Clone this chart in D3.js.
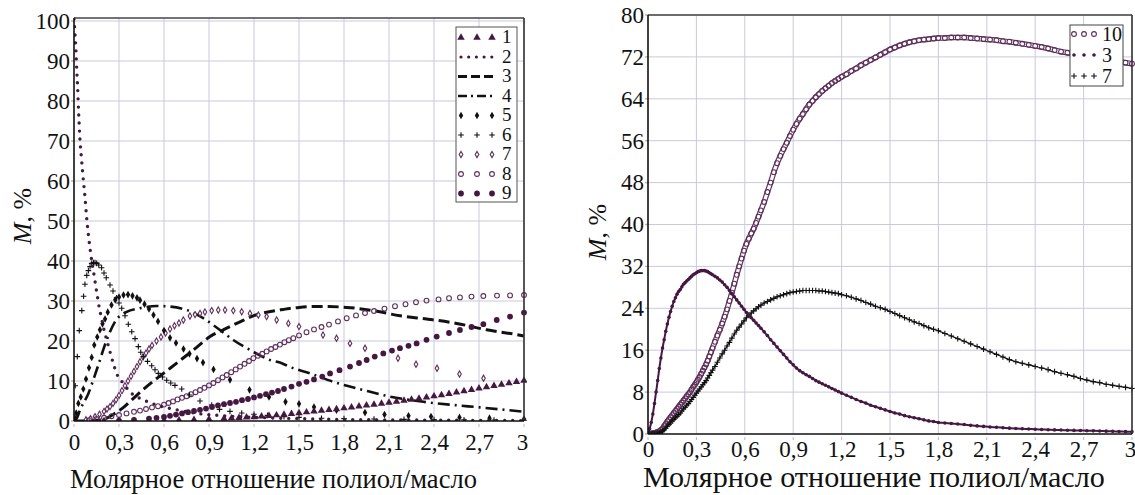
<!DOCTYPE html>
<html><head><meta charset="utf-8">
<script src="https://cdn.jsdelivr.net/npm/d3@7"></script>
<style>
body{margin:0;background:#fff}
svg{display:block}
</style>
</head><body>
<svg id="c" width="1135" height="495"></svg>
<script>
// ---------------- DATA ----------------
const xTicks = [0, 0.3, 0.6, 0.9, 1.2, 1.5, 1.8, 2.1, 2.4, 2.7, 3];
const xTickLabels = ["0", "0,3", "0,6", "0,9", "1,2", "1,5", "1,8", "2,1", "2,4", "2,7", "3"];
const yTicksLeft = [0, 10, 20, 30, 40, 50, 60, 70, 80, 90, 100];
const yTicksRight = [0, 8, 16, 24, 32, 40, 48, 56, 64, 72, 80];
const xTitle = "Молярное отношение полиол/масло";
const legendLeft = ["1", "2", "3", "4", "5", "6", "7", "8", "9"];
const legendRight = ["10", "3", "7"];

// Left chart series: [x, M%]
const s1 = [[0.2,0],[0.3,0],[0.4,0.02],[0.5,0.05],[0.6,0.1],[0.7,0.2],[0.8,0.3],[0.9,0.45],[1.0,0.6],[1.05,0.7],[1.1,0.8],[1.15,0.9],[1.2,1.0],[1.25,1.15],[1.3,1.3],[1.35,1.45],[1.4,1.6],[1.45,1.8],[1.5,2.0],[1.55,2.2],[1.6,2.4],[1.65,2.6],[1.7,2.8],[1.75,3.0],[1.8,3.2],[1.85,3.4],[1.9,3.65],[1.95,3.9],[2.0,4.1],[2.05,4.35],[2.1,4.6],[2.15,4.85],[2.2,5.1],[2.25,5.35],[2.3,5.6],[2.35,5.9],[2.4,6.2],[2.45,6.5],[2.5,6.8],[2.55,7.15],[2.6,7.5],[2.65,7.8],[2.7,8.15],[2.75,8.5],[2.8,8.8],[2.85,9.1],[2.9,9.45],[2.95,9.8],[3.0,10.1]];
const s2 = [[0,100.5],[0.007,96.5],[0.013,92.7],[0.018,88],[0.024,83.6],[0.031,77],[0.04,70.2],[0.049,66],[0.058,62],[0.073,56],[0.084,51],[0.096,46.5],[0.111,42],[0.124,38.6],[0.136,36],[0.147,33.2],[0.158,30.7],[0.169,28.2],[0.184,25.7],[0.2,22.8],[0.218,20.3],[0.24,17.3],[0.262,14.4],[0.284,11.9],[0.329,9.4],[0.373,7.3],[0.462,5.3],[0.551,4.0],[0.684,2.8],[0.8,2.0],[1.0,1.3],[1.3,0.8],[1.6,0.5],[2.0,0.3],[2.5,0.2],[3.0,0.1]];
const s3 = [[0,0],[0.1,0.05],[0.2,0.5],[0.273,1.9],[0.33,3.4],[0.384,5.25],[0.484,8.6],[0.596,11.9],[0.696,14.8],[0.796,17.75],[0.907,21.1],[1.018,23.2],[1.107,24.8],[1.196,26.3],[1.284,27.2],[1.396,27.9],[1.5,28.4],[1.6,28.6],[1.7,28.6],[1.818,28.4],[1.996,27.6],[2.173,26.3],[2.373,25.4],[2.551,24.4],[2.751,22.8],[2.929,21.75],[3.0,21.25]];
const s4 = [[0,0],[0.02,0.8],[0.04,2.75],[0.096,6.9],[0.151,12.75],[0.218,20.25],[0.273,24.8],[0.351,27.3],[0.44,28.2],[0.551,28.75],[0.64,28.6],[0.751,27.75],[0.862,25.7],[0.973,22.75],[1.062,20.25],[1.196,17.3],[1.307,15.25],[1.373,14.6],[1.44,13.5],[1.573,11.9],[1.729,9.8],[1.929,7.75],[2.107,6.1],[2.329,4.8],[2.529,4.0],[2.707,3.4],[2.884,2.75],[3.0,2.3]];
const s5 = [[0.005,0.8],[0.015,2.0],[0.029,4.4],[0.045,6.0],[0.062,8.0],[0.08,10.5],[0.1,13.3],[0.118,15.9],[0.135,19.0],[0.155,21.0],[0.173,22.8],[0.19,24.3],[0.207,25.5],[0.225,27.2],[0.25,29.0],[0.275,30.3],[0.3,31.0],[0.33,31.5],[0.36,31.6],[0.39,31.3],[0.42,30.8],[0.44,30.2],[0.47,29.2],[0.5,28.0],[0.53,26.5],[0.56,24.9],[0.6,22.6],[0.64,20.8],[0.68,19.5],[0.73,18.0],[0.77,16.8],[0.82,15.6],[0.86,14.6],[0.93,12.9],[1.04,10.3],[1.17,7.8],[1.3,6.0],[1.41,4.8],[1.5,4.3],[1.6,3.5],[1.75,2.7],[1.94,2.1],[2.07,1.6],[2.23,1.3],[2.38,1.1],[2.57,0.9],[2.77,0.7],[3.0,0.5]];
const s6 = [[0.008,8.8],[0.022,16.1],[0.035,22.6],[0.052,27.6],[0.064,31.2],[0.073,34.2],[0.085,36.4],[0.096,37.6],[0.107,38.6],[0.118,39.4],[0.13,39.6],[0.14,39.6],[0.151,39.4],[0.165,39.0],[0.184,38.3],[0.2,37.0],[0.215,35.8],[0.24,34.0],[0.26,32.5],[0.284,30.8],[0.3,29.5],[0.318,28.2],[0.34,26.3],[0.362,24.2],[0.385,22.3],[0.407,20.6],[0.429,18.6],[0.445,17.2],[0.462,16.1],[0.49,14.9],[0.518,13.8],[0.54,12.8],[0.562,11.9],[0.59,11.0],[0.618,10.2],[0.645,9.5],[0.673,8.9],[0.718,8.0],[0.77,6.5],[0.84,5.0],[0.918,4.0],[0.97,2.9],[1.04,2.4],[1.118,2.0],[1.2,1.7],[1.29,1.4],[1.4,1.1],[1.5,0.9],[1.65,0.7],[1.8,0.6],[2.0,0.5],[2.2,0.4],[2.4,0.35],[2.6,0.3],[2.8,0.25],[3.0,0.2]];
const s7 = [[0.08,0.3],[0.11,0.6],[0.14,1.1],[0.17,1.7],[0.2,2.4],[0.22,3.0],[0.24,3.6],[0.26,4.4],[0.28,5.3],[0.3,6.4],[0.32,7.6],[0.34,8.8],[0.36,10.0],[0.38,11.2],[0.4,12.4],[0.42,13.6],[0.44,14.8],[0.46,16.0],[0.48,17.0],[0.5,18.0],[0.52,18.9],[0.55,20.0],[0.58,21.0],[0.61,22.0],[0.64,23.0],[0.67,23.8],[0.7,24.5],[0.729,25.25],[0.773,26.25],[0.807,26.6],[0.84,26.9],[0.873,27.25],[0.918,27.6],[0.962,27.75],[1.007,27.75],[1.062,27.6],[1.118,27.3],[1.173,26.9],[1.229,26.5],[1.284,26.1],[1.351,25.25],[1.429,24.4],[1.5,23.6],[1.66,21.5],[1.75,20.7],[1.84,19.4],[1.94,18.2],[2.16,15.7],[2.28,14.2],[2.42,13.2],[2.57,11.75],[2.73,10.7]];
const s8 = [[0.1,0.2],[0.15,0.5],[0.2,0.8],[0.25,1.2],[0.3,1.5],[0.35,1.9],[0.4,2.3],[0.44,2.6],[0.48,3.0],[0.52,3.4],[0.56,3.7],[0.6,4.1],[0.63,4.5],[0.66,4.9],[0.69,5.4],[0.72,5.8],[0.751,6.2],[0.78,6.7],[0.81,7.2],[0.84,7.75],[0.87,8.3],[0.9,8.9],[0.929,9.5],[0.96,10.2],[0.99,10.9],[1.018,11.5],[1.048,12.2],[1.078,12.9],[1.107,13.6],[1.137,14.3],[1.167,15.0],[1.196,15.7],[1.226,16.3],[1.255,16.8],[1.284,17.4],[1.314,18.0],[1.343,18.5],[1.373,19.1],[1.403,19.7],[1.432,20.2],[1.462,20.7],[1.5,21.4],[1.55,22.2],[1.6,22.9],[1.65,23.5],[1.7,24.1],[1.76,24.9],[1.818,25.7],[1.88,26.4],[1.94,27.0],[2.0,27.5],[2.07,28.1],[2.14,28.7],[2.21,29.2],[2.28,29.7],[2.35,30.1],[2.43,30.4],[2.5,30.7],[2.573,30.9],[2.65,31.1],[2.729,31.25],[2.82,31.35],[2.907,31.4],[3.0,31.5]];
const s9 = [[0.3,0.1],[0.4,0.3],[0.5,0.6],[0.55,0.8],[0.6,1.0],[0.64,1.3],[0.68,1.6],[0.72,1.9],[0.76,2.2],[0.8,2.5],[0.84,2.8],[0.88,3.1],[0.92,3.5],[0.96,3.9],[1.0,4.2],[1.04,4.5],[1.08,4.8],[1.12,5.2],[1.16,5.5],[1.2,5.9],[1.24,6.3],[1.28,6.7],[1.32,7.1],[1.36,7.5],[1.4,8.0],[1.45,8.6],[1.5,9.3],[1.55,9.8],[1.6,10.4],[1.655,11.1],[1.707,11.9],[1.77,12.7],[1.84,13.6],[1.9,14.5],[1.951,15.25],[2.005,16.1],[2.062,16.9],[2.12,17.6],[2.173,18.2],[2.23,18.8],[2.284,19.4],[2.35,20.3],[2.418,21.1],[2.5,22.0],[2.573,22.75],[2.65,23.5],[2.729,24.2],[2.818,25.25],[2.907,26.1],[3.0,27.1]];

// Right chart: shared sample positions (molar ratio) and series values
const xRight = [...d3.range(0, 0.401, 0.01), ...d3.range(0.415, 0.701, 0.015), ...d3.range(0.72, 1.201, 0.02), ...d3.range(1.23, 1.801, 0.03), ...d3.range(1.84, 3.001, 0.04)].map(v => +v.toFixed(3));
const r10 = [0,0.05,0.1,0.15,0.2,0.3,0.4,0.55,0.75,1.0,1.5,1.9,2.4,2.8,3.2,3.6,4.0,4.4,4.8,5.2,5.6,6.0,6.4,6.8,7.2,7.6,8.0,8.5,9.0,9.4,9.9,10.4,10.9,11.5,12.1,12.7,13.3,14.0,14.8,15.6,16.4,
  17.6,18.8,19.9,21.1,22.4,23.8,25.4,27.0,28.7,30.4,32.0,33.5,35.0,36.3,37.3,38.3,39.2,40.3,41.5,42.7,
  44.3,46.2,48.0,50.0,51.7,53.1,54.4,55.6,56.9,58.1,59.2,60.2,61.1,62.0,62.9,63.6,64.3,64.9,65.5,66.0,66.5,67.0,67.4,67.8,68.2,
  68.7,69.3,69.8,70.4,70.9,71.4,71.9,72.4,72.9,73.4,73.8,74.2,74.5,74.8,75.0,75.2,75.3,75.4,75.5,75.6,
  75.6,75.7,75.7,75.7,75.6,75.5,75.4,75.3,75.2,75.0,74.9,74.7,74.5,74.3,74.1,73.9,73.6,73.3,73.0,72.8,72.5,72.3,72.1,71.9,71.7,71.5,71.3,71.1,70.9,70.7];
const r3 = [0,1.0,2.2,3.8,5.8,8.0,10.2,12.5,14.5,16.4,18.0,19.6,21.0,22.3,23.4,24.4,25.3,26.0,26.7,27.2,27.6,28.1,28.6,28.9,29.2,29.5,29.8,30.1,30.4,30.6,30.8,31.0,31.1,31.2,31.2,31.2,31.1,31.0,30.8,30.6,30.4,
  30.1,29.8,29.4,29.0,28.5,28.0,27.4,26.8,26.2,25.6,25.0,24.4,23.8,23.2,22.6,22.2,21.7,21.2,20.7,20.2,
  19.5,18.8,18.0,17.3,16.6,15.9,15.2,14.5,13.8,13.2,12.6,12.1,11.7,11.3,11.0,10.6,10.2,9.9,9.6,9.3,9.0,8.7,8.4,8.1,7.8,
  7.4,7.0,6.6,6.2,5.9,5.5,5.2,4.9,4.6,4.3,4.0,3.8,3.5,3.3,3.1,2.9,2.7,2.5,2.4,2.2,
  2.1,2.0,1.9,1.8,1.65,1.55,1.45,1.35,1.28,1.2,1.12,1.05,1.0,0.95,0.9,0.86,0.82,0.78,0.75,0.72,0.69,0.66,0.63,0.6,0.57,0.54,0.51,0.48,0.45,0.42];
const r7 = [0,0,0,0.02,0.05,0.08,0.12,0.2,0.35,0.55,0.8,1.1,1.5,1.8,2.1,2.5,2.8,3.1,3.4,3.7,4.0,4.4,4.8,5.1,5.5,5.8,6.2,6.6,7.0,7.4,7.8,8.2,8.6,9.0,9.4,9.8,10.2,10.7,11.2,11.7,12.2,
  12.9,13.7,14.5,15.3,16.0,16.8,17.5,18.3,19.1,19.8,20.4,21.0,21.6,22.2,22.7,23.1,23.5,23.9,24.3,24.6,
  25.0,25.3,25.6,25.9,26.2,26.4,26.6,26.8,27.0,27.1,27.2,27.3,27.4,27.4,27.4,27.4,27.4,27.3,27.3,27.2,27.1,27.0,26.9,26.8,26.6,
  26.4,26.1,25.8,25.5,25.1,24.8,24.4,24.1,23.8,23.4,23.0,22.6,22.2,21.8,21.4,21.1,20.7,20.3,20.0,19.7,
  19.2,18.7,18.2,17.7,17.2,16.7,16.2,15.7,15.2,14.7,14.2,13.8,13.5,13.2,12.9,12.6,12.3,11.9,11.6,11.3,11.0,10.6,10.3,10.0,9.8,9.5,9.3,9.1,8.9,8.7];

// ---------------- STYLE ----------------
const FONT = '"Liberation Serif", "Times New Roman", serif';
const PURPLE = "#451842", PURPLE_LT = "#5e2f5a", BLACK = "#111";
const GRID = "#c9c9de";
const svg = d3.select("#c");
svg.append("rect").attr("width",1135).attr("height",495).attr("fill","#fff");

const plusPath = s => `M${-s},0H${s}M0,${-s}V${s}`;

function drawMarkers(g, pts, kind) {
  const sel = g.append("g");
  pts.forEach(([px, py]) => {
    if (kind === "tri") sel.append("path").attr("d", d3.symbol(d3.symbolTriangle, 24)()).attr("transform",`translate(${px},${py})`).attr("fill",PURPLE);
    else if (kind === "dia") sel.append("path").attr("d", d3.symbol(d3.symbolDiamond, 17)()).attr("transform",`translate(${px},${py})`).attr("fill",BLACK);
    else if (kind === "odia") sel.append("path").attr("d", d3.symbol(d3.symbolDiamond, 11)()).attr("transform",`translate(${px},${py})`).attr("fill","#fff").attr("stroke",PURPLE_LT).attr("stroke-width",1.1);
    else if (kind === "plus") sel.append("path").attr("d", plusPath(2.8)).attr("transform",`translate(${px},${py})`).attr("stroke",BLACK).attr("stroke-width",1.1).attr("fill","none");
    else if (kind === "ocirc") sel.append("circle").attr("cx",px).attr("cy",py).attr("r",2.4).attr("fill","none").attr("stroke",PURPLE_LT).attr("stroke-width",1.1);
    else if (kind === "fcirc") sel.append("circle").attr("cx",px).attr("cy",py).attr("r",2.9).attr("fill",PURPLE);
    else if (kind === "dot") sel.append("circle").attr("cx",px).attr("cy",py).attr("r",1.8).attr("fill",PURPLE);
  });
}

function frame(g, x, y, yTicks, clipId) {
  const [x0, x1] = x.range(), [y1, y0] = y.range();
  g.append("g").selectAll("line").data(xTicks.slice(1)).join("line")
    .attr("x1", d => x(d)).attr("x2", d => x(d)).attr("y1", y0).attr("y2", y1)
    .attr("stroke", GRID).attr("stroke-width", 1);
  g.append("g").selectAll("line").data(yTicks.slice(1)).join("line")
    .attr("x1", x0).attr("x2", x1).attr("y1", d => y(d)).attr("y2", d => y(d))
    .attr("stroke", GRID).attr("stroke-width", 1);
  g.append("clipPath").attr("id", clipId).append("rect")
    .attr("x", x0).attr("y", y0 - 3).attr("width", x1 - x0 + 3).attr("height", y1 - y0 + 3);
}

function axes(g, x, y, yTicks, ylabAnchorX, xlabY) {
  const [x0, x1] = x.range(), [y1, y0] = y.range();
  g.append("g").selectAll("line").data(yTicks).join("line")
    .attr("x1", x0 - 3).attr("x2", x0).attr("y1", d => y(d)).attr("y2", d => y(d))
    .attr("stroke", "#d4b27a").attr("stroke-width", 1.5);
  g.append("g").selectAll("line").data(xTicks).join("line")
    .attr("x1", d => x(d)).attr("x2", d => x(d)).attr("y1", y1 + 3).attr("y2", y1 + 6)
    .attr("stroke", "#bbb").attr("stroke-width", 1);
  g.append("line").attr("x1", x0).attr("x2", x1).attr("y1", y0).attr("y2", y0).attr("stroke", "#444").attr("stroke-width", 1.3);
  g.append("line").attr("x1", x1).attr("x2", x1).attr("y1", y0).attr("y2", y1).attr("stroke", "#333").attr("stroke-width", 1.6);
  g.append("line").attr("x1", x0).attr("x2", x0).attr("y1", y0).attr("y2", y1).attr("stroke", "#111").attr("stroke-width", 1.6);
  g.append("line").attr("x1", x0).attr("x2", x1).attr("y1", y1).attr("y2", y1).attr("stroke", "#111").attr("stroke-width", 1.6);
  const ya = d3.axisLeft(y).tickValues(yTicks).tickSize(0).tickPadding(0);
  const yg = g.append("g").attr("transform", `translate(${ylabAnchorX},0)`).call(ya);
  yg.select(".domain").remove();
  yg.selectAll("text").attr("font-size", 23).attr("fill", "#111");
  const xa = d3.axisBottom(x).tickValues(xTicks).tickFormat((d, i) => xTickLabels[i]).tickSize(0).tickPadding(0);
  const xg = g.append("g").attr("transform", `translate(0,${xlabY})`).call(xa);
  xg.select(".domain").remove();
  xg.selectAll("text").attr("font-size", 23).attr("fill", "#111");
  xg.selectAll("text").filter((d, i) => i === xTicks.length - 1).attr("dx", -2);
}

function yTitle(g, tx, ty) {
  const t = g.append("text").attr("transform", `translate(${tx},${ty}) rotate(-90)`)
    .attr("text-anchor", "middle").attr("font-size", 26).attr("fill", "#111");
  t.append("tspan").attr("font-style", "italic").text("M");
  t.append("tspan").text(", %");
}

function xTitleText(g, x0, yb, targetW) {
  const t = g.append("text").attr("x", x0).attr("y", yb).attr("font-size", 28).attr("fill", "#111")
    .style("font-family", FONT).text(xTitle);
  const w = t.node().getComputedTextLength();
  if (w > 0) t.attr("font-size", (28 * targetW / w).toFixed(2));
}

// ---------------- LEFT CHART ----------------
{
  const x = d3.scaleLinear().domain([0, 3]).range([74, 524]);
  const y = d3.scaleLinear().domain([0, 100.75]).range([421, 18]);
  const g = svg.append("g");
  frame(g, x, y, yTicksLeft, "clipL");
  const pg = g.append("g").attr("clip-path", "url(#clipL)");
  const P = arr => arr.map(([a, b]) => [x(a), y(b)]);
  const line = d3.line().x(d => x(d[0])).y(d => y(d[1])).curve(d3.curveMonotoneX);
  pg.append("path").attr("d", line(s3)).attr("fill","none").attr("stroke",BLACK).attr("stroke-width",3).attr("stroke-dasharray","11 5");
  pg.append("path").attr("d", line(s4)).attr("fill","none").attr("stroke",BLACK).attr("stroke-width",2.6).attr("stroke-dasharray","12 5 2 5");
  drawMarkers(pg, P(s7), "odia");
  drawMarkers(pg, P(s8), "ocirc");
  drawMarkers(pg, P(s6), "plus");
  drawMarkers(pg, P(s5), "dia");
  drawMarkers(pg, P(s9), "fcirc");
  drawMarkers(pg, P(s1), "tri");
  pg.append("path").attr("d", line(s2)).attr("fill","none").attr("stroke",PURPLE).attr("stroke-width",3.4)
    .attr("stroke-linecap","round").attr("stroke-dasharray","0 8");
  axes(g, x, y, yTicksLeft, 70, 434);

  const lg = g.append("g");
  lg.append("rect").attr("x", 456).attr("y", 27).attr("width", 61).attr("height", 175).attr("fill", "#fff").attr("stroke", "#555").attr("stroke-width", 1);
  const kinds = ["tri", "dotline", "dash", "dashdot", "dia", "plus", "odia", "ocirc", "fcirc"];
  legendLeft.forEach((lab, i) => {
    const cy = 36.5 + i * 19.5;
    const k = kinds[i];
    if (k === "dotline") lg.append("line").attr("x1",461).attr("x2",492).attr("y1",cy+1).attr("y2",cy+1).attr("stroke",PURPLE).attr("stroke-width",3.2).attr("stroke-linecap","round").attr("stroke-dasharray","0 7.7");
    else if (k === "dash") lg.append("line").attr("x1",458).attr("x2",495).attr("y1",cy+1).attr("y2",cy+1).attr("stroke",BLACK).attr("stroke-width",3).attr("stroke-dasharray","9 4");
    else if (k === "dashdot") lg.append("line").attr("x1",458).attr("x2",495).attr("y1",cy+1).attr("y2",cy+1).attr("stroke",BLACK).attr("stroke-width",2.6).attr("stroke-dasharray","9 4 2 4");
    else drawMarkers(lg, [[461, cy + 1], [477, cy + 1], [492, cy + 1]], k);
    lg.append("text").attr("x", 502).attr("y", cy + 6.5).attr("font-size", 19).attr("fill", "#111").text(lab);
  });
  yTitle(g, 31, 216);
  xTitleText(g, 70, 488, 407);
}

// ---------------- RIGHT CHART ----------------
{
  const x = d3.scaleLinear().domain([0, 3]).range([648, 1132]);
  const y = d3.scaleLinear().domain([0, 80]).range([434, 15]);
  const g = svg.append("g");
  frame(g, x, y, yTicksRight, "clipR");
  const pg = g.append("g").attr("clip-path", "url(#clipR)");
  const pts = vals => xRight.map((xv, i) => [xv, vals[i]]);
  const P = vals => xRight.map((xv, i) => [x(xv), y(vals[i])]);
  const line = d3.line().x(d => x(d[0])).y(d => y(d[1])).curve(d3.curveMonotoneX);
  pg.append("path").attr("d", line(pts(r10))).attr("fill","none").attr("stroke",PURPLE_LT).attr("stroke-width",5.6);
  pg.append("path").attr("d", line(pts(r10))).attr("fill","none").attr("stroke","#fff").attr("stroke-width",3.2);
  drawMarkers(pg, P(r10), "ocirc");
  pg.append("path").attr("d", line(pts(r7))).attr("fill","none").attr("stroke",BLACK).attr("stroke-width",1.2);
  drawMarkers(pg, P(r7), "plus");
  pg.append("path").attr("d", line(pts(r3))).attr("fill","none").attr("stroke",PURPLE).attr("stroke-width",2);
  drawMarkers(pg, P(r3), "dot");
  axes(g, x, y, yTicksRight, 644, 441);

  const lg = g.append("g");
  lg.append("rect").attr("x", 1070).attr("y", 25).attr("width", 53).attr("height", 61).attr("fill", "#fff").attr("stroke", "#444").attr("stroke-width", 1);
  const kinds = ["ocirc", "dot", "plus"];
  legendRight.forEach((lab, i) => {
    const cy = 34 + i * 21;
    drawMarkers(lg, [[1074, cy], [1084, cy], [1094, cy]], kinds[i]);
    lg.append("text").attr("x", 1102).attr("y", cy + 7).attr("font-size", 20).attr("fill", "#111").text(lab);
  });
  yTitle(g, 606, 232);
  xTitleText(g, 643, 487, 462);
}

// serif face on every text (inline style beats the axis generator's attribute)
svg.selectAll("text").style("font-family", FONT);
</script>
</body></html>
